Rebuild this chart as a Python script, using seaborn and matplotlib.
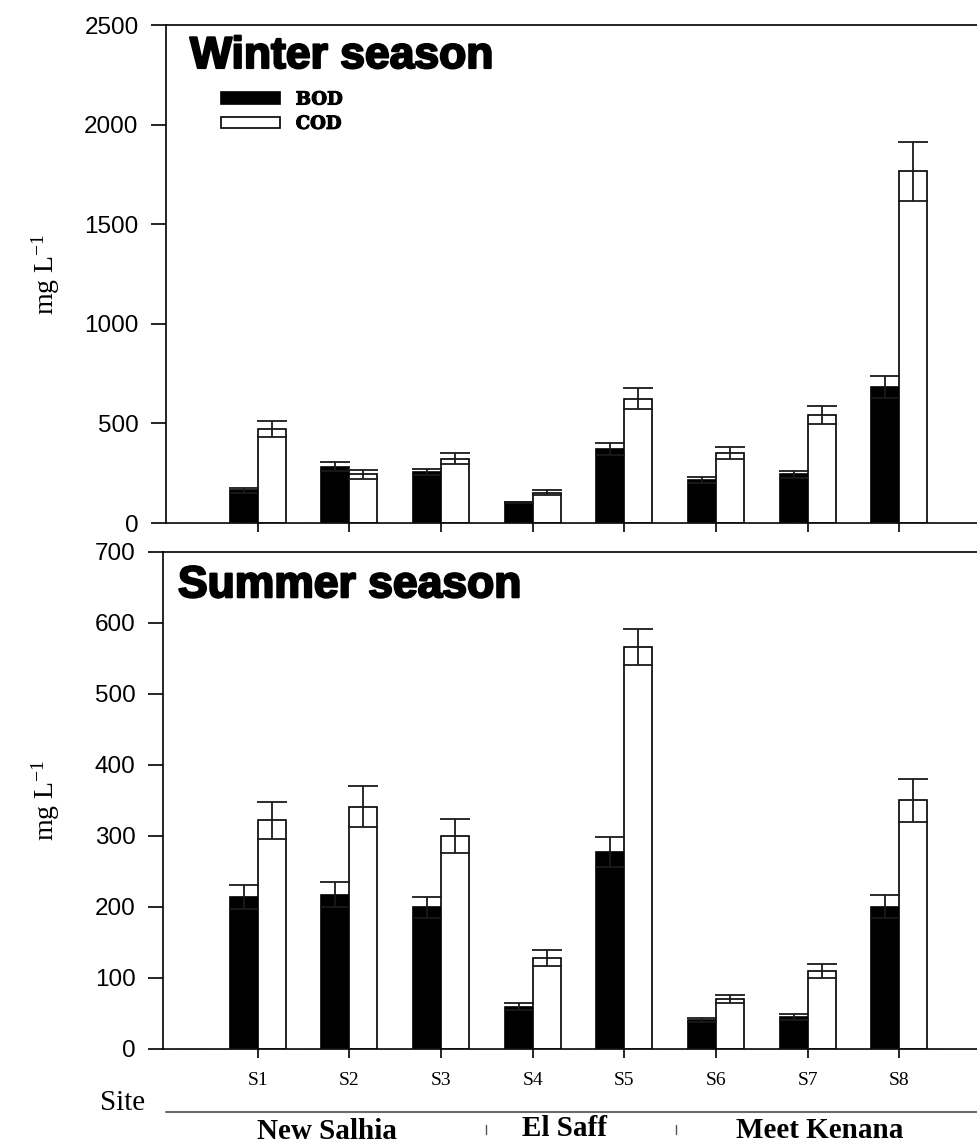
import numpy as np
import pandas as pd
import matplotlib
matplotlib.use("Agg")
import matplotlib.pyplot as plt
import matplotlib.patheffects as pe
from matplotlib.patches import Patch
from matplotlib.lines import Line2D
import seaborn as sns

# ---- data ----
sites = ["S1", "S2", "S3", "S4", "S5", "S6", "S7", "S8"]
params = ["BOD", "COD"]

winter_bod = [165, 282, 256, 103, 372, 214, 244, 683]
winter_bod_err = [12, 22, 17, 4, 30, 15, 17, 57]
winter_cod = [473, 244, 323, 152, 623, 352, 542, 1765]
winter_cod_err = [40, 21, 27, 12, 53, 30, 47, 150]

summer_bod = [213, 217, 199, 59, 277, 40, 44, 200]
summer_bod_err = [17, 18, 15, 5, 21, 3, 4, 16]
summer_cod = [322, 341, 300, 128, 566, 70, 109, 350]
summer_cod_err = [26, 29, 24, 11, 26, 6, 10, 30]

regions = ["New Salhia", "El Saff", "Meet Kenana"]
winter_ticks = [0, 500, 1000, 1500, 2000, 2500]
summer_ticks = [0, 100, 200, 300, 400, 500, 600, 700]

sns.set_theme(style="ticks")
plt.rcParams["font.family"] = ["Liberation Sans", "DejaVu Sans"]
plt.rcParams["mathtext.fontset"] = "custom"
plt.rcParams["mathtext.rm"] = "Liberation Serif"
plt.rcParams["mathtext.it"] = "Liberation Serif:italic"
for k in ["text.color", "axes.labelcolor", "xtick.color", "ytick.color", "axes.edgecolor"]:
    plt.rcParams[k] = "black"

W, H = 977, 1144
fig = plt.figure(figsize=(W / 100, H / 100), dpi=100)

def px_axes(left, right, top, bottom):
    return fig.add_axes([left / W, 1 - bottom / H, (right - left) / W, (bottom - top) / H])

ax1 = px_axes(166, 991, 25, 523)
ax2 = px_axes(163, 991, 552, 1048.5)

def make_df(bod, cod):
    return pd.DataFrame({
        "site": sites * 2,
        "param": ["BOD"] * len(sites) + ["COD"] * len(sites),
        "value": list(bod) + list(cod),
    })

def draw(ax, bod, bod_err, cod, cod_err, ticks, xlim_left):
    df = make_df(bod, cod)
    sns.barplot(data=df, x="site", y="value", hue="param", order=sites,
                hue_order=params, palette={"BOD": "black", "COD": "white"},
                edgecolor="black", linewidth=1.2, width=0.61, saturation=1,
                errorbar=None, legend=False, ax=ax, zorder=2)
    for cont, vals, errs in zip(ax.containers, [bod, cod], [bod_err, cod_err]):
        xs = [p.get_x() + p.get_width() / 2 for p in cont.patches]
        ax.errorbar(xs, vals, yerr=errs, fmt="none", ecolor="#1a1a1a",
                    elinewidth=1.3, capsize=11, capthick=1.3, zorder=3)
    ax.axhline(0, color="#777777", linewidth=1.0, linestyle=(0, (1, 1)), zorder=4)
    ax.set_xlim(xlim_left, 8)
    ax.set_ylim(ticks[0], ticks[-1])
    ax.set_yticks(ticks)
    ax.set_yticklabels([str(t) for t in ticks], fontsize=17.5, family="Liberation Sans",
                       color="black")
    ax.set_xlabel("")
    ax.set_ylabel("mg L$^{\\mathregular{-1}}$", fontsize=20, family="Liberation Serif",
                  color="black")
    for s in ["left", "bottom", "top"]:
        ax.spines[s].set_visible(True)
        ax.spines[s].set_color("black")
        ax.spines[s].set_linewidth(1.2)
    ax.spines["right"].set_visible(False)
    ax.tick_params(axis="y", direction="out", length=10.8, width=1.2, pad=9, color="black",
                   labelcolor="black")
    ax.tick_params(axis="x", direction="out", length=6.5, width=1.2, pad=10.5, color="black",
                   labelcolor="black")
    ax.set_facecolor("white")

draw(ax1, winter_bod, winter_bod_err, winter_cod, winter_cod_err, winter_ticks, -1.0)
draw(ax2, summer_bod, summer_bod_err, summer_cod, summer_cod_err, summer_ticks, -1.0327)

ax1.set_xticklabels([])
ax2.set_xticks(range(len(sites)))
ax2.set_xticklabels(sites, fontsize=14, family="Liberation Serif", color="black")

ax1.yaxis.set_label_coords((62 - 166) / 825, 0.5)
ax2.yaxis.set_label_coords((62 - 163) / 828, 0.5)

thick = [pe.withStroke(linewidth=1.6, foreground="black")]
ax1.text((190 - 166) / 825, 0.9137, "Winter season", transform=ax1.transAxes,
         fontsize=32, fontweight="bold", family="Liberation Sans", va="baseline",
         ha="left", color="black", path_effects=thick)
ax2.text((178 - 163) / 828, 0.909, "Summer season", transform=ax2.transAxes,
         fontsize=32, fontweight="bold", family="Liberation Sans", va="baseline",
         ha="left", color="black", path_effects=thick)

handles = [Patch(facecolor="black", edgecolor="black", linewidth=1.2, label="BOD"),
           Patch(facecolor="white", edgecolor="black", linewidth=1.2, label="COD")]
leg = ax1.legend(handles=handles, loc="upper left",
                 bbox_to_anchor=((221 - 166) / 825, (523 - 90.5) / 498),
                 frameon=False, borderpad=0, borderaxespad=0,
                 handlelength=3.28, handleheight=0.63, handletextpad=0.86,
                 labelspacing=0.35,
                 prop={"family": "DejaVu Serif", "weight": "bold", "size": 13})
for t in leg.get_texts():
    t.set_color("black")
    t.set_path_effects([pe.withStroke(linewidth=0.8, foreground="black")])

# Site / region annotations below the lower panel
fig.text(100 / W, 1 - 1110 / H, "Site", fontsize=21, family="Liberation Serif",
         ha="left", va="baseline", color="black")
fig.add_artist(Line2D([166 / W, 1.0], [1 - 1112 / H, 1 - 1112 / H],
                      color="#6a6a6a", linewidth=1.5))
region_x = [327, 564, 820]
region_top = [1118, 1115.5, 1117.5]
for name, xc, yt in zip(regions, region_x, region_top):
    fig.text(xc / W, 1 - yt / H, name, fontsize=21, fontweight="bold",
             family="Liberation Serif", ha="center", va="top", color="black")
for xs in [486, 676]:
    fig.add_artist(Line2D([xs / W, xs / W], [1 - 1125 / H, 1 - 1134 / H],
                          color="#555555", linewidth=1.0))

fig.savefig("out.png", dpi=100, facecolor="white")
